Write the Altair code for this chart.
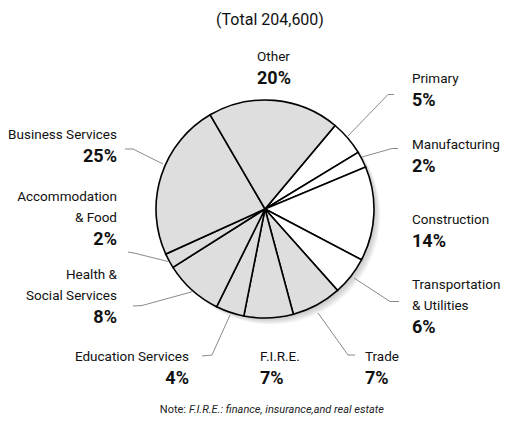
import math
import altair as alt
import pandas as pd

# ---------------- data ----------------
categories = ["Primary", "Manufacturing", "Construction", "Transportation & Utilities",
              "Trade", "F.I.R.E.", "Education Services", "Health & Social Services",
              "Accommodation & Food", "Business Services", "Other"]
# slice sizes as drawn (percent of circle)
shares = [5.2, 2.4, 14.0, 5.7, 7.4, 7.3, 4.2, 8.7, 2.2, 23.4, 19.5]
# printed percentages
pct_labels = [5, 2, 14, 6, 7, 7, 4, 8, 2, 25, 20]
sector = ["Goods", "Goods", "Goods", "Goods", "Services", "Services", "Services",
          "Services", "Services", "Services", "Services"]
title_text = "(Total 204,600)"
note_lead = "Note:"
note_body = "F.I.R.E.: finance, insurance,and real estate"

# ---------------- layout ----------------
W, H = 497, 409
FONT = "Roboto, Liberation Sans, sans-serif"
CX, CY, R = 265, 209, 109          # pie centre / radius (page pixels)
START = math.radians(40)

name_lines = {
    "Transportation & Utilities": ["Transportation", "& Utilities"],
    "Accommodation & Food": ["Accommodation", "& Food"],
    "Health & Social Services": ["Health &", "Social Services"],
}
label_pos = {  # x anchor, first line y, align
    "Other": (257, 57, "left"),
    "Primary": (412, 79, "left"),
    "Manufacturing": (412, 145, "left"),
    "Construction": (412, 220, "left"),
    "Transportation & Utilities": (412, 285, "left"),
    "Trade": (365, 357, "left"),
    "F.I.R.E.": (260, 357, "left"),
    "Education Services": (189, 356.5, "right"),
    "Health & Social Services": (117, 275, "right"),
    "Accommodation & Food": (117, 197, "right"),
    "Business Services": (117, 135, "right"),
}
leaders = {
    "Primary": [(348, 136), (388, 94.5), (394, 94.5)],
    "Manufacturing": [(362, 157), (392, 148.5), (398, 148.5)],
    "Transportation & Utilities": [(354, 278), (390, 301.5), (399, 301.5)],
    "Trade": [(318, 313), (348, 355), (355, 355)],
    "Education Services": [(230, 315), (212, 355), (202, 356)],
    "Health & Social Services": [(193, 291.5), (142, 305.5), (133, 306)],
    "Accommodation & Food": [(168, 261.5), (134, 253), (128, 252)],
    "Business Services": [(163, 164), (133, 149), (125, 149)],
}

pie_df = pd.DataFrame({"category": categories, "share": shares,
                       "sector": sector, "idx": list(range(len(categories)))})

name_rows, pct_rows = [], []
for cat, pct in zip(categories, pct_labels):
    x, y0, al = label_pos[cat]
    lines = name_lines.get(cat, [cat])
    for i, ln in enumerate(lines):
        name_rows.append({"text": ln, "x": x, "y": y0 + 20.5 * i, "align": al})
    pct_rows.append({"text": f"{pct}%", "x": x, "y": y0 + 20.5 * (len(lines) - 1) + 22, "align": al})
names_df = pd.DataFrame(name_rows)
pcts_df = pd.DataFrame(pct_rows)

lead_rows = []
for cat, pts in leaders.items():
    for j, (px, py) in enumerate(pts):
        lead_rows.append({"cat": cat, "o": j, "x": px, "y": py})
lead_df = pd.DataFrame(lead_rows)

xs = alt.Scale(domain=[8, 8 + W], range=[0, W], nice=False, zero=False)
ys = alt.Scale(domain=[8, 8 + H], range=[0, H], nice=False, zero=False)
X = alt.X("x:Q", scale=xs, axis=None)
Y = alt.Y("y:Q", scale=ys, axis=None)

one = pd.DataFrame({"a": [0]})
layers = []

# soft shadow to the lower right
for k in range(1, 8):
    layers.append(
        alt.Chart(one).mark_arc(outerRadius=R, theta=0, theta2=2 * math.pi,
                                fill="#7a7a7a", opacity=0.07)
        .encode(x=alt.value(CX - 8 + 0.9 * k), y=alt.value(CY - 8 + 0.9 * k))
    )

pie = alt.Chart(pie_df).mark_arc(outerRadius=R, stroke="black", strokeWidth=1.6).encode(
    theta=alt.Theta("share:Q", stack=True,
                    scale=alt.Scale(range=[START, START + 2 * math.pi])),
    order=alt.Order("idx:Q"),
    color=alt.Color("sector:N", scale=alt.Scale(domain=["Goods", "Services"],
                                                range=["#ffffff", "#dedede"]), legend=None),
    x=alt.value(CX - 8), y=alt.value(CY - 8),
)
layers.append(pie)

lead = alt.Chart(lead_df).mark_line(color="#8a8a8a", strokeWidth=1).encode(
    x=X, y=Y, detail="cat:N", order="o:Q")
layers.append(lead)

for al in ["left", "right"]:
    layers.append(
        alt.Chart(names_df[names_df["align"] == al]).mark_text(
            align=al, baseline="middle", font=FONT, fontSize=13.5, color="#111")
        .encode(x=X, y=Y, text="text:N"))
    layers.append(
        alt.Chart(pcts_df[pcts_df["align"] == al]).mark_text(
            align=al, baseline="middle", font=FONT, fontSize=18, fontWeight="bold", color="#111")
        .encode(x=X, y=Y, text="text:N"))

title_df = pd.DataFrame({"text": [title_text], "x": [270], "y": [20]})
layers.append(alt.Chart(title_df).mark_text(
    align="center", baseline="middle", font=FONT, fontSize=16, color="#111")
    .encode(x=X, y=Y, text="text:N"))

note_a = pd.DataFrame({"text": [note_lead], "x": [186], "y": [410]})
note_b = pd.DataFrame({"text": [note_body], "x": [189], "y": [410]})
layers.append(alt.Chart(note_a).mark_text(
    align="right", baseline="middle", font=FONT, fontSize=11, color="#222")
    .encode(x=X, y=Y, text="text:N"))
layers.append(alt.Chart(note_b).mark_text(
    align="left", baseline="middle", font=FONT, fontSize=11, fontStyle="italic", color="#222")
    .encode(x=X, y=Y, text="text:N"))

chart = alt.layer(*layers).properties(
    width=W, height=H, padding=0, autosize=alt.AutoSizeParams(type="none"),
    background="white",
).configure_view(stroke=None)

chart.save("out.html", embed_options={"renderer": "svg", "actions": False})
